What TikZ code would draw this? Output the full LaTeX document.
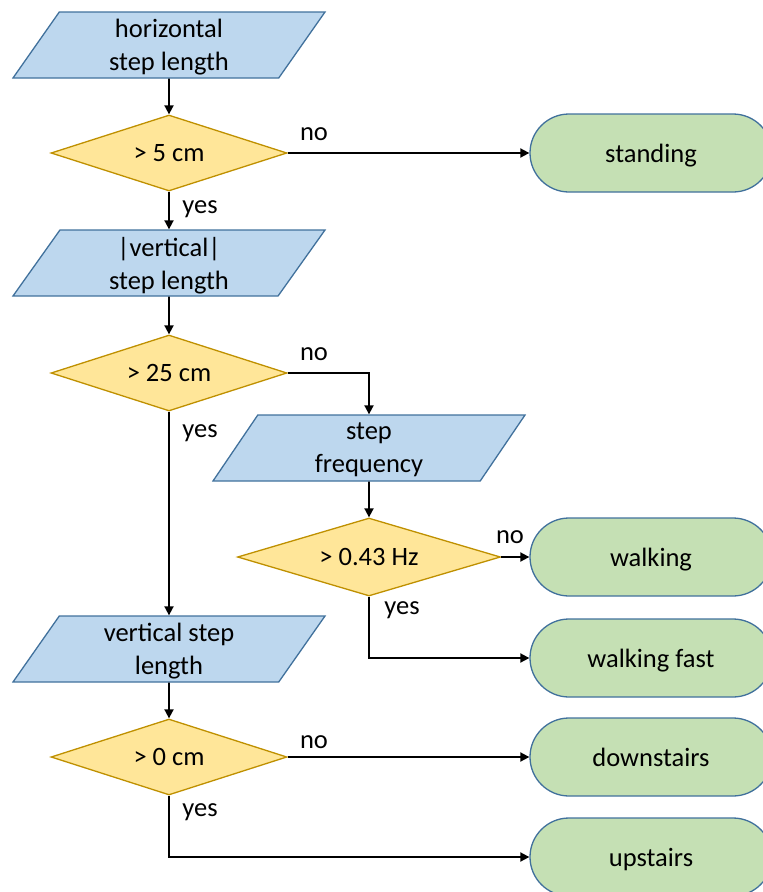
\documentclass[tikz,border=0pt]{standalone}
\usepackage{fontspec}
\setmainfont{Carlito}
\usepackage{tikz}
\usetikzlibrary{positioning, calc}
\usetikzlibrary{arrows.meta}
\usetikzlibrary{shapes.geometric}

\definecolor{iofill}{HTML}{BDD7EE}
\definecolor{decfill}{HTML}{FFE699}
\definecolor{endfill}{HTML}{C5E0B4}
\definecolor{blueline}{HTML}{41719C}
\definecolor{goldline}{HTML}{BF9000}

\begin{document}
\begin{tikzpicture}[x=1pt, y=-1pt, >={Triangle[length=9pt,width=9pt]}]
	\fontsize{26.5}{33}\selectfont
	\def \colone{169}
	\def \coltwo{369}
	\def \colend{651}
	\tikzstyle{io-node}=[trapezium, trapezium left angle=48, trapezium right angle=132, trapezium stretches body, minimum width=312pt, minimum height=66pt, inner sep=0pt, text depth=0pt, align=center, fill=iofill, draw=blueline, line width=1.3pt]
	\tikzstyle{dec-node}=[diamond, aspect=3.1, minimum width=236pt, minimum height=76pt, inner sep=0pt, text depth=0pt, fill=decfill, draw=goldline, line width=1.3pt]
	\tikzstyle{end-node}=[rectangle, rounded corners=39pt, minimum width=242pt, minimum height=78pt, inner sep=0pt, text depth=0pt, fill=endfill, draw=blueline, line width=1.3pt]
	\tikzstyle{flow}=[->, line width=1.8pt]
	\useasboundingbox (0,0) rectangle (763,892);
	\clip (0,0) rectangle (763,892);

	% left column
	\node[io-node] 	(hlen)	at (\colone,45)		{horizontal\\step length};
	\node[dec-node] 	(c5)	at (\colone,153)		{> 5 cm};
	\node[io-node] 	(vabs)	at (\colone,263)		{|vertical|\\step length};
	\node[dec-node] 	(c25)	at (\colone,373)		{> 25 cm};
	\node[io-node] 	(vlen)	at (\colone,649)		{vertical step\\length};
	\node[dec-node] 	(c0)	at (\colone,757)		{> 0 cm};

	% middle column
	\node[io-node] 	(freq)	at (\coltwo,448)		{step\\frequency};
	\node[dec-node, minimum width=263pt, minimum height=78pt] 	(c043)	at (\coltwo,557)		{> 0.43 Hz};

	% results
	\node[end-node] 	(stand)	at (\colend,153)		{standing};
	\node[end-node] 	(walk)	at (\colend,557)		{walking};
	\node[end-node] 	(fast)	at (\colend,658)		{walking fast};
	\node[end-node] 	(down)	at (\colend,757)		{downstairs};
	\node[end-node] 	(up)	at (\colend,857)		{upstairs};

	\draw[flow] (hlen) -- (c5);
	\draw[flow] (c5) -- (stand);
	\draw[flow] (c5) -- (vabs);
	\draw[flow] (vabs) -- (c25);
	\draw[flow] (c25.east) -| (freq.north);
	\draw[flow] (c25) -- (vlen);
	\draw[flow] (freq) -- (c043);
	\draw[flow] (c043) -- (walk);
	\draw[flow] (c043.south) |- (fast.west);
	\draw[flow] (vlen) -- (c0);
	\draw[flow] (c0) -- (down);
	\draw[flow] (c0.south) |- (up.west);

	% branch labels
	\node 	(no1)	at (314,134)		{no};
	\node 	(yes1)	at (200,209)		{yes};
	\node 	(no2)	at (314,354)		{no};
	\node 	(yes2)	at (200,433)		{yes};
	\node 	(no3)	at (510,537)		{no};
	\node 	(yes3)	at (402,610)		{yes};
	\node 	(no4)	at (314,742)		{no};
	\node 	(yes4)	at (200,812)		{yes};
\end{tikzpicture}
\end{document}
